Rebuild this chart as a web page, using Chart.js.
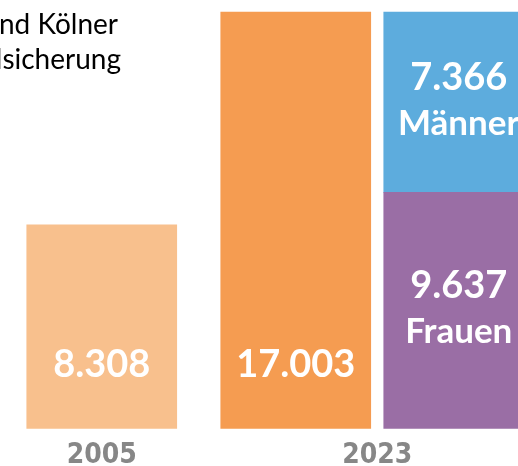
<!DOCTYPE html>
<html>
<head>
<meta charset="utf-8">
<script src="https://cdn.jsdelivr.net/npm/chart.js@4/dist/chart.umd.min.js"></script>
<style>
  html, body { margin: 0; padding: 0; overflow: hidden; background: #ffffff; width: 518px; height: 466px; }
  #wrap { position: absolute; left: -36px; top: 0; width: 600px; height: 484px; }
</style>
</head>
<body>
<div id="wrap"><canvas id="c"></canvas></div>
<script>
// --- data ---
const years = ['2005', '2023'];
const totals = [8308, 17003];
const frauen = [null, 9637];
const maenner = [null, 7366];
const segmentNames = ['Frauen', 'Männer'];
const titleLines = ['nd Kölner', 'lsicherung'];

const fmt = v => String(v).replace(/\B(?=(\d{3})+(?!\d))/g, '.');
const OFFSET_X = 36; // canvas offset vs page

const labelPlugin = {
  id: 'labels',
  afterDatasetsDraw(chart) {
    const ctx = chart.ctx;
    ctx.save();
    ctx.fillStyle = '#ffffff';
    ctx.textAlign = 'center';
    ctx.textBaseline = 'alphabetic';
    // totals
    const m0 = chart.getDatasetMeta(0);
    m0.data.forEach((el, i) => {
      if (totals[i] == null) return;
      ctx.font = 'bold 38px Lato';
      ctx.fillText(fmt(totals[i]), el.x, el.base - 51);
    });
    // segments
    [1, 2].forEach(di => {
      const meta = chart.getDatasetMeta(di);
      const ds = chart.data.datasets[di];
      meta.data.forEach((el, i) => {
        const v = ds.data[i];
        if (v == null) return;
        const mid = (el.y + el.base) / 2;
        ctx.font = 'bold 38px Lato';
        ctx.fillText(fmt(v), el.x, mid - 12);
        ctx.font = 'bold 35px Lato';
        ctx.fillText(ds.label, el.x, mid + 33);
      });
    });
    // title fragment
    ctx.fillStyle = '#000000';
    ctx.textAlign = 'right';
    ctx.font = '28px Lato';
    ctx.fillText(titleLines[0], OFFSET_X + 118, 34);
    ctx.fillText(titleLines[1], OFFSET_X + 121, 69);
    ctx.restore();
  }
};

new Chart(document.getElementById('c'), {
  type: 'bar',
  data: {
    labels: years,
    datasets: [
      { label: 'Gesamt', data: totals, backgroundColor: ['#F8C08D', '#F59C51'], stack: 'gesamt' },
      { label: segmentNames[0], data: frauen, backgroundColor: '#9A6EA5', stack: 'geschlecht' },
      { label: segmentNames[1], data: maenner, backgroundColor: '#5DACDD', stack: 'geschlecht' }
    ]
  },
  options: {
    responsive: true,
    maintainAspectRatio: false,
    animation: false,
    datasets: {
      bar: { skipNull: true, barThickness: 163, maxBarThickness: 150, clip: false, borderWidth: 0 }
    },
    layout: { padding: { left: 0, right: 49, top: 12, bottom: 0 } },
    plugins: { legend: { display: false }, tooltip: { enabled: false }, title: { display: false } },
    scales: {
      x: {
        stacked: true,
        offset: true,
        grid: { display: false, drawTicks: false },
        border: { display: false },
        ticks: { padding: 11, color: '#878787', font: { family: "'DejaVu Sans Condensed', 'DejaVu Sans', sans-serif", weight: 'bold', size: 28 } }
      },
      y: {
        stacked: true,
        display: false,
        min: 0,
        max: totals[1]
      }
    }
  },
  plugins: [labelPlugin]
});
</script>
</body>
</html>
